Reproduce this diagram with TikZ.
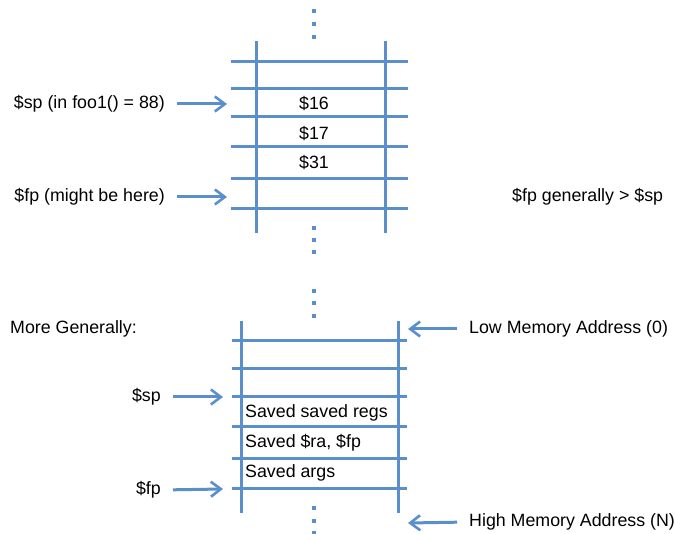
\documentclass[tikz,border=0pt]{standalone}
\usepackage{fontspec}
\setmainfont{Liberation Sans}
\usetikzlibrary{arrows.meta}
\definecolor{stackblue}{HTML}{5A8FCC}
\tikzset{
  gridline/.style={stackblue, line width=3pt},
  ptr/.style={stackblue, line width=3pt,
    -{Straight Barb[length=10pt,width=15pt,line width=2.6pt]}},
  lbl/.style={font=\fontsize{17.8}{21}\selectfont, inner sep=0pt, text=black},
  dotmark/.style={fill=stackblue, rectangle, inner sep=0pt, minimum size=3.6pt}
}
\begin{document}
\begin{tikzpicture}[x=1pt, y=-1pt]
\useasboundingbox (0,0) rectangle (675,534);

% ---------- upper stack (inside foo1) ----------
\foreach \yy in {11,24,37,228,240,252}
  \node[dotmark] at (314,\yy) {};
\draw[gridline] (256,41) -- (256,233);
\draw[gridline] (385,41) -- (385,233);
\foreach \yy in {62,89,117,147,179,209}
  \draw[gridline] (231,\yy) -- (408,\yy);
\node[lbl] (c16) at (314,104) {\$16};
\node[lbl] (c17) at (314,134) {\$17};
\node[lbl] (c31) at (314,163) {\$31};

\node[lbl, anchor=east] (spfoo) at (165,104) {\$sp (in foo1() = 88)};
\node[lbl, anchor=east] (fpmay) at (165,197) {\$fp (might be here)};
\coordinate (spfootip) at (227,104);
\coordinate (fpmaytip) at (227,197);
\draw[ptr, shorten <=12pt] (spfoo.east) -- (spfootip);
\draw[ptr, shorten <=12pt] (fpmay.east) -- (fpmaytip);

\node[lbl, anchor=west] (fpgt) at (512,197) {\$fp generally > \$sp};

% ---------- general frame layout ----------
\node[lbl, anchor=west] (moregen) at (10,329) {More Generally:};
\foreach \yy in {291,303,316,508,521,533}
  \node[dotmark] at (314,\yy) {};
\draw[gridline] (241,321) -- (241,513);
\draw[gridline] (398,321) -- (398,513);
\foreach \yy in {341,369,397,427,459,489}
  \draw[gridline] (232,\yy) -- (407,\yy);
\node[lbl, anchor=west] (sregs) at (245,413) {Saved saved regs};
\node[lbl, anchor=west] (srafp) at (245,443) {Saved \$ra, \$fp};
\node[lbl, anchor=west] (sargs) at (245,473) {Saved args};

\node[lbl, anchor=east] (splbl) at (161,397) {\$sp};
\node[lbl, anchor=east] (fplbl) at (161,490) {\$fp};
\coordinate (sptip) at (223,397);
\coordinate (fptip) at (223,489);
\draw[ptr, shorten <=12pt] (splbl.east) -- (sptip);
\draw[ptr, shorten <=12pt] (fplbl.east) -- (fptip);

\node[lbl, anchor=west] (lowaddr) at (469,329) {Low Memory Address (0)};
\node[lbl, anchor=west] (highaddr) at (469,522) {High Memory Address (N)};
\coordinate (lowtip) at (408,329);
\coordinate (hightip) at (408,523);
\draw[ptr, shorten <=12pt] (lowaddr.west) -- (lowtip);
\draw[ptr, shorten <=12pt] (highaddr.west) -- (hightip);
\end{tikzpicture}
\end{document}
